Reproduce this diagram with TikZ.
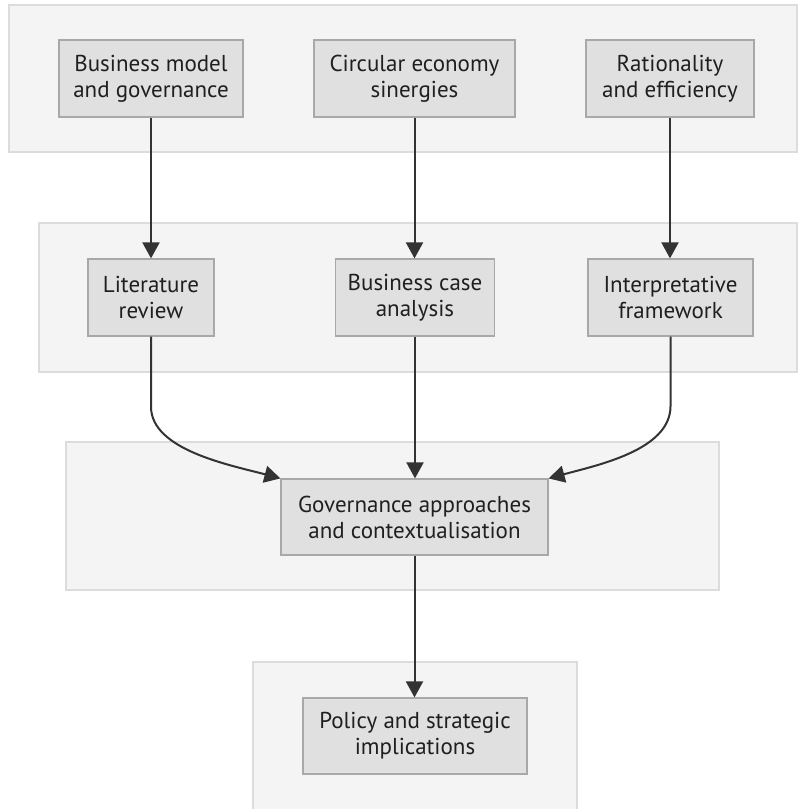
\documentclass[tikz,border=0pt]{standalone}
\usepackage{fontspec}
\setmainfont{PT Sans}
\usetikzlibrary{arrows.meta}
\definecolor{clfill}{HTML}{F4F4F4}
\definecolor{cldraw}{HTML}{DCDCDC}
\definecolor{ndfill}{HTML}{E0E0E0}
\definecolor{nddraw}{HTML}{A8A8A8}
\definecolor{edgec}{HTML}{333333}
\begin{document}
\begin{tikzpicture}[x=1pt,y=-1pt,
  cluster/.style={draw=cldraw,fill=clfill,line width=1.2pt},
  box/.style={draw=nddraw,fill=ndfill,line width=1.2pt,rectangle,inner sep=0pt,align=center,font=\fontsize{23}{26}\selectfont,text=black!88,execute at begin node={\rule{0pt}{22pt}}},
  flow/.style={draw=edgec,line width=2pt,-{Triangle[length=16pt,width=17pt]}}]
\useasboundingbox (0,0) rectangle (799,809);
\fill[white] (0,0) rectangle (799,809);
% clusters
\draw[cluster] (9,5) rectangle (797,152);
\draw[cluster] (39,223) rectangle (797,372);
\draw[cluster] (66,442) rectangle (719,590);
\draw[cluster] (253,662) rectangle (577,812);
% nodes
\node[box,minimum width=184pt,minimum height=77pt] (bm) at (151,78.5) {Business model\\and governance};
\node[box,minimum width=201pt,minimum height=77pt] (ce) at (414.5,78.5) {Circular economy\\sinergies};
\node[box,minimum width=168pt,minimum height=77pt] (re) at (670,78.5) {Rationality\\and efficiency};
\node[box,minimum width=126pt,minimum height=77pt] (lr) at (151,297.5) {Literature\\review};
\node[box,minimum width=159pt,minimum height=77pt] (bc) at (415,297.5) {Business case\\analysis};
\node[box,minimum width=165pt,minimum height=77pt] (if) at (670.5,297.5) {Interpretative\\framework};
\node[box,minimum width=267pt,minimum height=76pt] (ga) at (414.5,517) {Governance approaches\\and contextualisation};
\node[box,minimum width=224pt,minimum height=76pt] (pi) at (415,736) {Policy and strategic\\implications};
% edges
\draw[flow] (bm.south) -- (lr.north);
\draw[flow] (ce.south) -- (ce.south |- bc.north);
\draw[flow] (re.south) -- (re.south |- if.north);
\draw[flow] (lr.south) -- ++(0,70) .. controls (151,450) and (230,465) .. (ga.north west);
\draw[flow] (bc.south) -- (bc.south |- ga.north);
\draw[flow] (if.south) -- ++(0,70) .. controls (670,450) and (598,465) .. (ga.north east);
\draw[flow] (ga.south) -- (ga.south |- pi.north);
\end{tikzpicture}
\end{document}
